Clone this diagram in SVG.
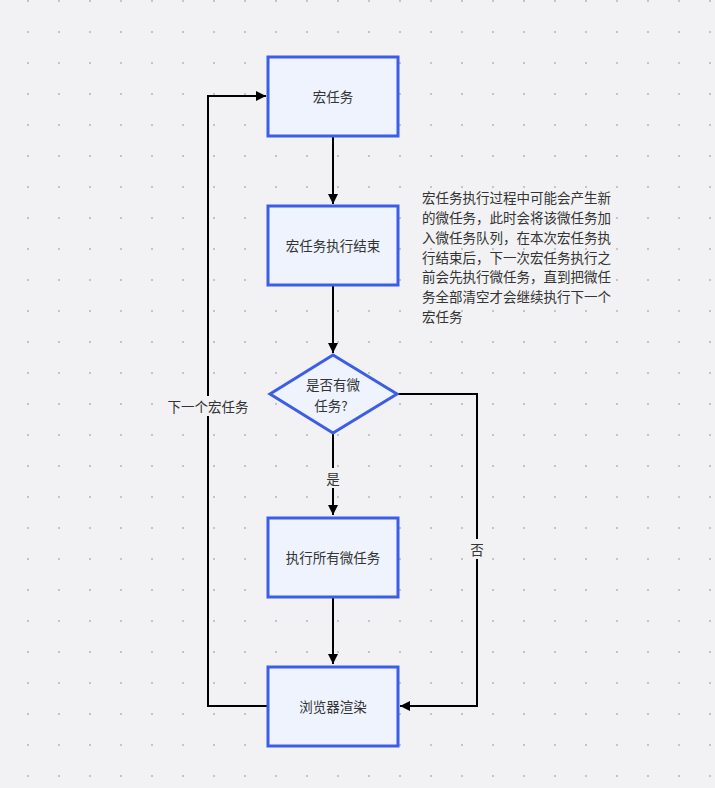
<svg xmlns="http://www.w3.org/2000/svg" width="715" height="788" viewBox="0 0 715 788">
<style>
.node rect, .node polygon { fill: #eef3fe; stroke: #3c5de6; stroke-width: 3; }
.t { font-family: "Noto Sans CJK SC", "Noto Sans", sans-serif; font-size: 13.5px; fill: #333; text-anchor: middle; dominant-baseline: central; }
.note { font-family: "Noto Sans CJK SC", "Noto Sans", sans-serif; font-size: 13.5px; fill: #333; }
.edge { fill: none; stroke: #000; stroke-width: 2; }
.lbl { fill: #f2f2f4; }
</style>
<defs>
<pattern id="dots" x="27" y="0" width="31" height="31" patternUnits="userSpaceOnUse">
<rect x="0" y="0" width="2" height="2" fill="#c4c4c8"/>
</pattern>
<marker id="arr" viewBox="0 0 10 10" refX="10" refY="5" markerWidth="10" markerHeight="10" markerUnits="userSpaceOnUse" orient="auto">
<path d="M0,0 L10,5 L0,10 z" fill="#000"/>
</marker>
</defs>
<rect width="715" height="788" fill="#f2f2f4"/>
<rect width="715" height="788" fill="url(#dots)"/>
<g id="connectors">
<path class="edge" d="M333,137 V204" marker-end="url(#arr)"/>
<path class="edge" d="M333,286 V353" marker-end="url(#arr)"/>
<path class="edge" d="M333,434 V515" marker-end="url(#arr)"/>
<path class="edge" d="M333,598 V664" marker-end="url(#arr)"/>
<path class="edge" d="M398,394 H477 V706 H400" marker-end="url(#arr)"/>
<path class="edge" d="M267,706 H208 V96 H266" marker-end="url(#arr)"/>
<rect class="lbl" x="323" y="468" width="20" height="20"/>
<text class="t" x="333" y="478">是</text>
<rect class="lbl" x="467" y="539" width="20" height="20"/>
<text class="t" x="477" y="549">否</text>
<rect class="lbl" x="166" y="396" width="84" height="20"/>
<text class="t" x="208" y="406">下一个宏任务</text>
</g>
<g id="n1" class="node">
<rect x="268" y="57" width="130" height="79"/>
<text class="t" x="333" y="96">宏任务</text>
</g>
<g id="n2" class="node">
<rect x="268" y="206" width="130" height="79"/>
<text class="t" x="333" y="245">宏任务执行结束</text>
</g>
<g id="n3" class="node">
<polygon points="333,355 397,394 333,433 270,394"/>
<text class="t" x="333" y="384">是否有微</text>
<text class="t" x="331" y="405">任务?</text>
</g>
<g id="n4" class="node">
<rect x="268" y="518" width="130" height="79"/>
<text class="t" x="333" y="557">执行所有微任务</text>
</g>
<g id="n5" class="node">
<rect x="268" y="667" width="130" height="79"/>
<text class="t" x="333" y="706">浏览器渲染</text>
</g>
<g id="note">
<text class="note" x="422" y="203">宏任务执行过程中可能会产生新</text>
<text class="note" x="422" y="223">的微任务，此时会将该微任务加</text>
<text class="note" x="422" y="243">入微任务队列，在本次宏任务执</text>
<text class="note" x="422" y="263">行结束后，下一次宏任务执行之</text>
<text class="note" x="422" y="282">前会先执行微任务，直到把微任</text>
<text class="note" x="422" y="302">务全部清空才会继续执行下一个</text>
<text class="note" x="422" y="322">宏任务</text>
</g>
</svg>
